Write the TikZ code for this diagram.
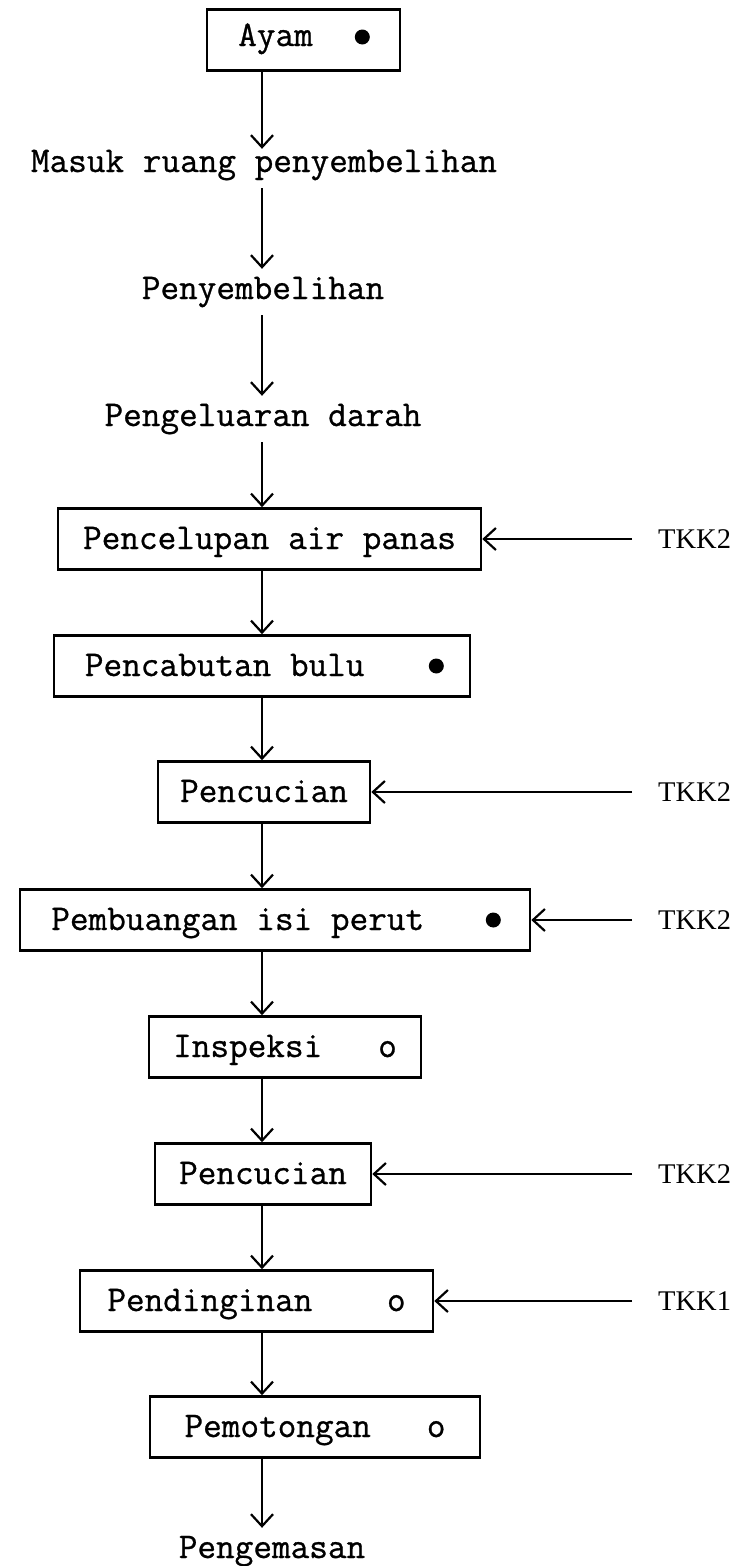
\documentclass[tikz,border=0pt]{standalone}
\usepackage{fontspec}
\setmonofont{Latin Modern Mono}[FakeBold=0.8]
\newfontfamily\tkkfont{Liberation Serif}
\usetikzlibrary{arrows.meta,calc}
\begin{document}
\begin{tikzpicture}[x=1pt,y=-1pt,
  tt/.style={font=\fontsize{36.2}{40}\selectfont\ttfamily},
  stepbox/.style={draw, line width=2.6pt, tt, inner sep=0pt, minimum height=61pt,
    text height=20pt, text depth=0pt, align=center},
  freetext/.style={tt, anchor=base, inner xsep=0pt, inner ysep=10pt,
    text height=20pt, text depth=6pt},
  arr/.style={line width=2.2pt, -{Straight Barb[length=12pt,width=22pt,line width=2.2pt]}},
  tkk/.style={font=\fontsize{28.5}{32}\selectfont\tkkfont, anchor=west, inner sep=0pt},
  blob/.style={fill=black},
]
\fill[white] (0,0) rectangle (738,1566);
\useasboundingbox (0,0) rectangle (738,1566);

\coordinate (spine) at (262,0);

% process steps
\node[stepbox, minimum width=193pt, text depth=8pt] (ayam) at (303.5,40) {Ayam~~\phantom{o}};
\node[freetext] (masuk) at (264,172) {Masuk ruang penyembelihan};
\node[freetext] (sembelih) at (263,299) {Penyembelihan};
\node[freetext] (darah) at (263,426) {Pengeluaran darah};
\node[stepbox, minimum width=423pt] (celup) at (269.5,539) {Pencelupan air panas};
\node[stepbox, minimum width=416pt] (cabut) at (262,666) {Pencabutan bulu~~~\phantom{o}};
\node[stepbox, minimum width=212pt] (cuci) at (264,792) {Pencucian};
\node[stepbox, minimum width=510pt] (buang) at (275,920) {Pembuangan isi perut~~~\phantom{o}};
\node[stepbox, minimum width=272pt] (inspeksi) at (285,1047) {Inspeksi~~~o};
\node[stepbox, minimum width=216pt] (cucilagi) at (263,1174) {Pencucian};
\node[stepbox, minimum width=353pt] (dingin) at (256.5,1301) {Pendinginan~~~~o};
\node[stepbox, minimum width=330pt] (potong) at (315,1427) {Pemotongan~~~o};
\node[freetext] (kemas) at (272,1558) {Pengemasan};

% filled markers
\fill[blob] ($(ayam.east)+(-39,-3)$) circle (7.5);
\fill[blob] ($(cabut.east)+(-35,0)$) circle (7.5);
\fill[blob] ($(buang.east)+(-38,0)$) circle (7.5);

% main flow
\draw[arr] (ayam.south -| spine) -- ([yshift=-7pt]masuk.north -| spine);
\draw[arr] (masuk.south -| spine) -- (sembelih.north -| spine);
\draw[arr] (sembelih.south -| spine) -- (darah.north -| spine);
\draw[arr] (darah.south -| spine) -- (celup.north -| spine);
\draw[arr] (celup.south -| spine) -- (cabut.north -| spine);
\draw[arr] (cabut.south -| spine) -- (cuci.north -| spine);
\draw[arr] (cuci.south -| spine) -- (buang.north -| spine);
\draw[arr] (buang.south -| spine) -- (inspeksi.north -| spine);
\draw[arr] (inspeksi.south -| spine) -- (cucilagi.north -| spine);
\draw[arr] (cucilagi.south -| spine) -- (dingin.north -| spine);
\draw[arr] (dingin.south -| spine) -- (potong.north -| spine);
\draw[arr] (potong.south -| spine) -- (kemas.north -| spine);

% side inputs
\node[tkk] (tkkA) at (658,539) {TKK2};
\node[tkk] (tkkB) at (658,792) {TKK2};
\node[tkk] (tkkC) at (658,920) {TKK2};
\node[tkk] (tkkD) at (658,1174) {TKK2};
\node[tkk] (tkkE) at (658,1301) {TKK1};
\draw[arr] ([xshift=-26pt]tkkA.west) -- (celup.east);
\draw[arr] ([xshift=-26pt]tkkB.west) -- (cuci.east);
\draw[arr] ([xshift=-26pt]tkkC.west) -- (buang.east);
\draw[arr] ([xshift=-26pt]tkkD.west) -- (cucilagi.east);
\draw[arr] ([xshift=-26pt]tkkE.west) -- (dingin.east);
\end{tikzpicture}
\end{document}
